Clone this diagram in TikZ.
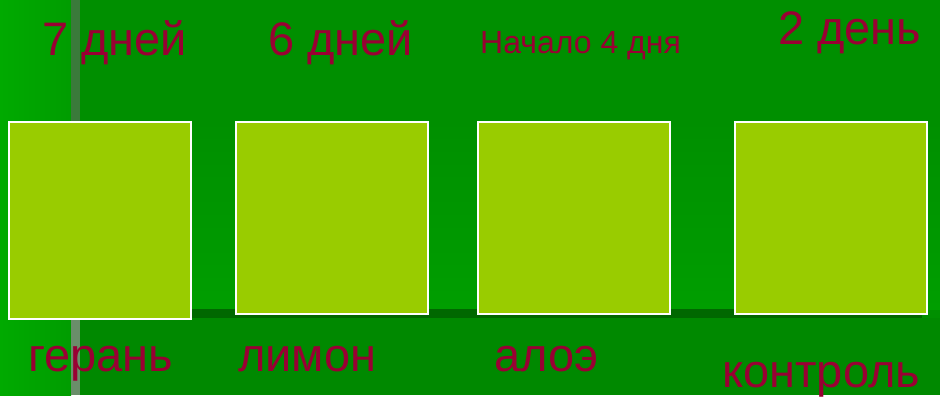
\documentclass[tikz,border=0pt]{standalone}
\usepackage{fontspec}
\setmainfont{Liberation Sans}
\usepackage{tikz}
\usetikzlibrary{positioning}
\definecolor{field}{HTML}{008F00}
\definecolor{fieldlo}{HTML}{008900}
\definecolor{glow}{HTML}{009E00}
\definecolor{edge}{HTML}{00AA00}
\definecolor{dusk}{HTML}{006800}
\definecolor{rule}{HTML}{3A7A3A}
\definecolor{rulelo}{HTML}{6A8E6A}
\definecolor{leaf}{HTML}{99CC00}
\definecolor{wine}{HTML}{990033}

\begin{document}
\begin{tikzpicture}[x=1pt,y=-1pt,
   pot/.style={draw=white,line width=1.8pt,fill=leaf,inner sep=0pt,anchor=north west,minimum width=192pt,minimum height=192pt},
   lbl/.style={text=wine,anchor=base west,inner sep=0pt,font=\fontsize{47pt}{50pt}\selectfont},
   small/.style={lbl,font=\fontsize{32pt}{34pt}\selectfont}]
  % background
  \fill[field] (0,0) rectangle (940,395);
  \fill[fieldlo] (0,318) rectangle (940,395);
  \shade[top color=field,bottom color=glow] (0,120) rectangle (940,309);
  \shade[left color=edge,right color=field!50!edge] (0,0) rectangle (71,395);
  \fill[rule] (71,0) rectangle (80,318);
  \fill[rulelo] (71,318) rectangle (80,395);
  \fill[dusk] (190,309) rectangle (922,318);
  % pots
  \node[pot,minimum width=182pt,minimum height=197pt] (geran) at (8,121) {};
  \node[pot] (limon) at (235,121) {};
  \node[pot] (aloe) at (477,121) {};
  \node[pot] (kontr) at (734,121) {};
  % days
  \node[lbl] (d7) at (42,56) {7 дней};
  \node[lbl] (d6) at (268,56) {6 дней};
  \node[small] (d4) at (480,54) {Начало 4 дня};
  \node[lbl] (d2) at (778,45) {2 день};
  % names
  \node[lbl] (n1) at (28,371) {герань};
  \node[lbl] (n2) at (238,371) {лимон};
  \node[lbl] (n3) at (494,371) {алоэ};
  \node[lbl] (n4) at (722,387) {контроль};
\end{tikzpicture}
\end{document}
